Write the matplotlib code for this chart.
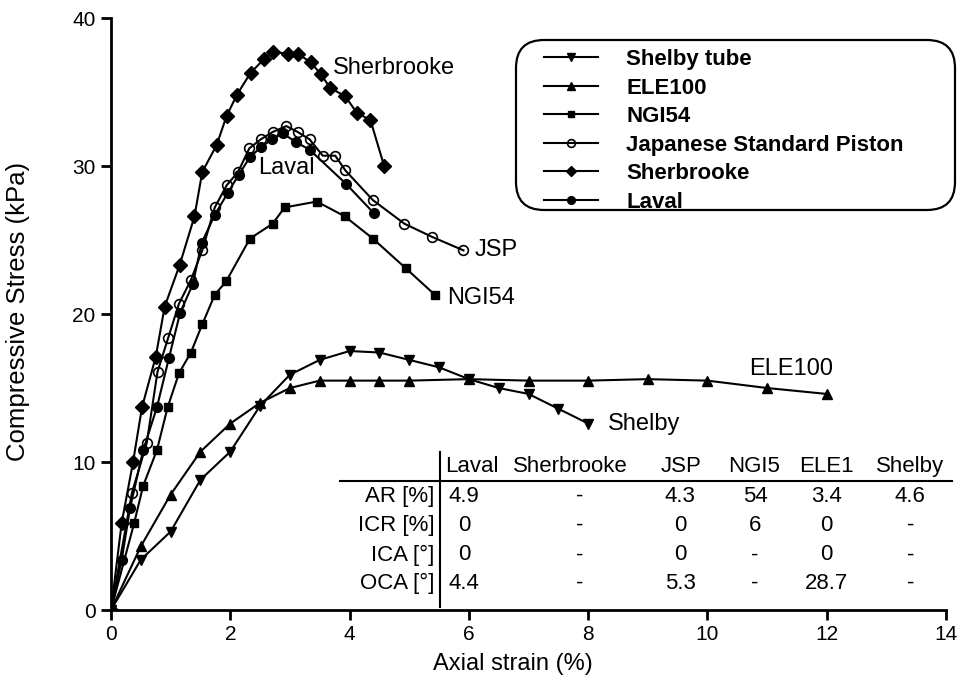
import matplotlib
matplotlib.use("Agg")
import matplotlib.pyplot as plt
from matplotlib.patches import FancyBboxPatch

plt.rcParams['font.family'] = ['Liberation Sans', 'DejaVu Sans']

# ---------------- data ----------------
shelby_x = [0, 0.5, 1.0, 1.5, 2.0, 2.5, 3.0, 3.5, 4.0, 4.5, 5.0, 5.5, 6.0, 6.5, 7.0, 7.5, 8.0]
shelby_y = [0, 3.4, 5.3, 8.8, 10.7, 13.8, 15.9, 16.9, 17.5, 17.4, 16.9, 16.4, 15.6, 15.0, 14.6, 13.6, 12.6]

ele_x = [0, 0.5, 1.0, 1.5, 2.0, 2.5, 3.0, 3.5, 4.0, 4.5, 5.0, 6.0, 7.0, 8.0, 9.0, 10.0, 11.0, 12.0]
ele_y = [0, 4.3, 7.8, 10.7, 12.6, 14.0, 15.0, 15.5, 15.5, 15.5, 15.5, 15.6, 15.5, 15.5, 15.6, 15.5, 15.0, 14.6]

ngi_x = [0, 0.39, 0.54, 0.77, 0.95, 1.14, 1.34, 1.53, 1.74, 1.93, 2.33, 2.71, 2.91, 3.45, 3.92, 4.39, 4.94, 5.43]
ngi_y = [0, 5.9, 8.4, 10.8, 13.7, 16.0, 17.4, 19.3, 21.3, 22.2, 25.1, 26.1, 27.2, 27.6, 26.6, 25.1, 23.1, 21.3]

jsp_x = [0, 0.35, 0.6, 0.78, 0.96, 1.14, 1.34, 1.53, 1.74, 1.94, 2.13, 2.32, 2.51, 2.71, 2.94,
         3.13, 3.33, 3.55, 3.76, 3.93, 4.39, 4.92, 5.39, 5.91]
jsp_y = [0, 7.9, 11.3, 16.1, 18.4, 20.7, 22.3, 24.3, 27.2, 28.7, 29.6, 31.2, 31.8, 32.3, 32.7,
         32.3, 31.8, 30.7, 30.7, 29.7, 27.7, 26.1, 25.2, 24.3]

sher_x = [0, 0.18, 0.37, 0.52, 0.75, 0.9, 1.15, 1.4, 1.53, 1.77, 1.94, 2.11, 2.34, 2.56, 2.71,
          2.97, 3.13, 3.35, 3.52, 3.67, 3.93, 4.12, 4.35, 4.58]
sher_y = [0, 5.9, 10.0, 13.7, 17.1, 20.5, 23.3, 26.6, 29.6, 31.4, 33.4, 34.8, 36.3, 37.2, 37.7,
          37.6, 37.6, 37.0, 36.2, 35.3, 34.7, 33.6, 33.1, 30.0]

laval_x = [0, 0.18, 0.32, 0.54, 0.77, 0.97, 1.16, 1.37, 1.52, 1.74, 1.96, 2.14, 2.33, 2.52, 2.7,
           2.88, 3.11, 3.33, 3.94, 4.41]
laval_y = [0, 3.4, 6.9, 10.8, 13.7, 17.0, 20.1, 22.0, 24.8, 26.7, 28.2, 29.4, 30.6, 31.3, 31.8,
           32.2, 31.6, 31.1, 28.8, 26.8]

legend_names = ["Shelby tube", "ELE100", "NGI54", "Japanese Standard Piston", "Sherbrooke", "Laval"]

table_cols = ["Laval", "Sherbrooke", "JSP", "NGI5", "ELE1", "Shelby"]
table_rows = ["AR [%]", "ICR [%]", "ICA [°]", "OCA [°]"]
table_vals = [
    ["4.9", "-", "4.3", "54", "3.4", "4.6"],
    ["0", "-", "0", "6", "0", "-"],
    ["0", "-", "0", "-", "0", "-"],
    ["4.4", "-", "5.3", "-", "28.7", "-"],
]

# ---------------- figure ----------------
fig = plt.figure(figsize=(9.71, 6.91), dpi=100)
ax = fig.add_axes([0.1143, 0.1172, 0.860, 0.8567])

lw = 1.5
common = dict(color='black', lw=lw, mec='black')
ax.plot(shelby_x, shelby_y, marker='v', ms=7, mfc='black', label=legend_names[0], **common)
ax.plot(ele_x, ele_y, marker='^', ms=7, mfc='black', label=legend_names[1], **common)
ax.plot(ngi_x, ngi_y, marker='s', ms=6, mfc='black', label=legend_names[2], **common)
ax.plot(jsp_x, jsp_y, marker='o', ms=7, mfc='none', mew=1.2, label=legend_names[3], **common)
ax.plot(sher_x, sher_y, marker='D', ms=7, mfc='black', label=legend_names[4], **common)
ax.plot(laval_x, laval_y, marker='o', ms=7, mfc='black', label=legend_names[5], **common)

ax.set_xlim(0, 14)
ax.set_ylim(0, 40)
ax.set_xticks(range(0, 15, 2))
ax.set_yticks(range(0, 41, 10))
ax.spines['top'].set_visible(False)
ax.spines['right'].set_visible(False)
for s in ('left', 'bottom'):
    ax.spines[s].set_linewidth(2)
ax.tick_params(direction='out', length=7, width=2, labelsize=15, pad=4)
ax.set_xlabel("Axial strain (%)", fontsize=17)
ax.set_ylabel("Compressive Stress (kPa)", fontsize=18.5)
ax.xaxis.set_label_coords(0.481, -0.072)
ax.yaxis.set_label_coords(-0.097, 0.505)

# curve labels
lab_fs = 17
ax.text(3.72, 36.6, "Sherbrooke", fontsize=lab_fs, va='center', ha='left')
ax.text(2.47, 29.9, "Laval", fontsize=lab_fs, va='center', ha='left')
ax.text(6.09, 24.3, "JSP", fontsize=lab_fs, va='center', ha='left')
ax.text(5.63, 21.1, "NGI54", fontsize=lab_fs, va='center', ha='left')
ax.text(10.7, 16.3, "ELE100", fontsize=lab_fs, va='center', ha='left')
ax.text(8.33, 12.6, "Shelby", fontsize=lab_fs, va='center', ha='left')

# legend (frame drawn separately as a rounded box)
box = FancyBboxPatch((5.16, 6.91 - 2.10), 4.39, 1.70,
                     boxstyle='round,pad=0,rounding_size=0.28',
                     transform=fig.dpi_scale_trans, facecolor='white',
                     edgecolor='black', lw=1.6, zorder=4, clip_on=False)
ax.add_artist(box)
leg = ax.legend(loc='upper left', bbox_to_anchor=(544 / 971, (691 - 49) / 691),
                bbox_transform=fig.transFigure, borderaxespad=0, borderpad=0,
                prop={'size': 16, 'weight': 'bold'}, handlelength=2.45, handletextpad=1.25,
                labelspacing=0.34, frameon=False, markerscale=0.8)
leg.set_zorder(6)

# table
tfs = 16
col_x = [5.92, 7.86, 9.54, 10.80, 11.99, 13.40]
head_x = [6.05, 7.70, 9.56, 10.78, 11.99, 13.40]
row_y = [7.70, 5.74, 3.72, 1.82]
for cx, name in zip(head_x, table_cols):
    ax.text(cx, 9.73, name, fontsize=tfs, ha='center', va='center')
for ry, rname, vals in zip(row_y, table_rows, table_vals):
    ax.text(5.42, ry, rname, fontsize=tfs, ha='right', va='center')
    for cx, v in zip(col_x, vals):
        ax.text(cx, ry, v, fontsize=tfs, ha='center', va='center')
ax.plot([5.52, 5.52], [0.2, 10.68], color='black', lw=1.5, clip_on=False)
ax.plot([3.84, 14.1], [8.72, 8.72], color='black', lw=1.5, clip_on=False)

fig.savefig("out.png", dpi=100)
